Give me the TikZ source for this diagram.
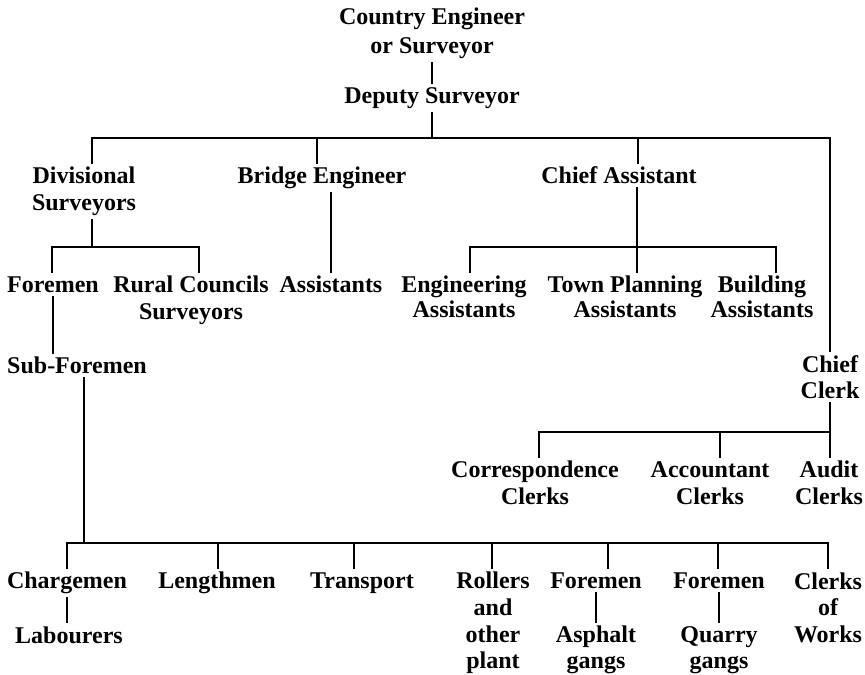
\documentclass[tikz,border=0pt]{standalone}
\usepackage{fontspec}
\setmainfont{Liberation Serif}

\begin{document}
\begin{tikzpicture}[
  x=0.5pt, y=-0.5pt,
  post/.style={font=\fontsize{12pt}{13.3pt}\selectfont\bfseries, align=center, inner sep=2pt},
  link/.style={line width=1.2pt, line cap=rect}
]
  \useasboundingbox (0,0) rectangle (865,674);

  % head of the department
  \node[post, font=\fontsize{12pt}{14.5pt}\selectfont\bfseries] (county) at (432,33.5) {Country Engineer\\or Surveyor};
  \node[post] (deputy) at (432,98) {Deputy Surveyor};

  % second tier
  \node[post, font=\fontsize{12pt}{13.5pt}\selectfont\bfseries] (divsur) at (84,191.5) {Divisional\\Surveyors};
  \node[post] (bridge) at (322,178) {Bridge Engineer};
  \node[post] (chiefasst) at (619,175.5) {Chief Assistant};

  \node[post] (foremen) at (53,284.5) {Foremen};
  \node[post] (rural) at (191,300) {Rural Councils\\Surveyors};
  \node[post] (assist) at (331,284.5) {Assistants};
  \node[post, font=\fontsize{12pt}{12.5pt}\selectfont\bfseries] (enga) at (464,297) {Engineering\\Assistants};
  \node[post, font=\fontsize{12pt}{12.5pt}\selectfont\bfseries] (towna) at (625,297) {Town Planning\\Assistants};
  \node[post, font=\fontsize{12pt}{12.5pt}\selectfont\bfseries] (builda) at (762,297) {Building\\Assistants};

  \node[post] (subfore) at (77,365.5) {Sub-Foremen};
  \node[post] (chiefclerk) at (830,377) {Chief\\Clerk};

  % clerical staff
  \node[post] (corr) at (535,483) {Correspondence\\Clerks};
  \node[post] (acct) at (710,483) {Accountant\\Clerks};
  \node[post] (audit) at (829,483) {Audit\\Clerks};

  % outdoor staff
  \node[post] (charge) at (67,583) {Chargemen};
  \node[post] (labour) at (69,635) {Labourers};
  \node[post] (length) at (217,583) {Lengthmen};
  \node[post] (transport) at (362,583) {Transport};
  \node[post] (rollers) at (493,623) {Rollers\\and\\other\\plant};
  \node[post] (forea) at (596,580.5) {Foremen};
  \node[post] (asph) at (596,650) {Asphalt\\gangs};
  \node[post] (foreq) at (719,580.5) {Foremen};
  \node[post] (quarry) at (719,650) {Quarry\\gangs};
  \node[post] (works) at (828,607.5) {Clerks\\of\\Works};

  % main bar
  \coordinate (t0) at (432,138);
  \coordinate (t1) at (92,138);
  \coordinate (t2) at (317,138);
  \coordinate (t3) at (638,138);
  \coordinate (t4) at (830,138);
  \draw[link] (county) -- (deputy);
  \draw[link] (deputy) -- (t0);
  \draw[link] (t1) -- (t4);
  \draw[link] (t1) -- (t1 |- divsur.north);
  \draw[link] (t2) -- (t2 |- bridge.north);
  \draw[link] (t3) -- (t3 |- chiefasst.north);
  \draw[link] (t4) -- (chiefclerk);

  % divisions
  \coordinate (d0) at (92,247);
  \coordinate (d1) at (52,247);
  \coordinate (d2) at (199,247);
  \draw[link] (d0 |- divsur.south) -- (d0);
  \draw[link] (d1) -- (d2);
  \draw[link] (d1) -- (d1 |- foremen.north);
  \draw[link] (d2) -- (d2 |- rural.north);
  \draw[link] (foremen) -- (foremen |- subfore.north);

  \draw[link] (assist |- bridge.south) -- (assist);

  \coordinate (c0) at (637,247);
  \coordinate (c1) at (470,247);
  \coordinate (c2) at (776,247);
  \draw[link] (c0 |- chiefasst.south) -- (c0);
  \draw[link] (c1) -- (c2);
  \draw[link] (c1) -- (c1 |- enga.north);
  \draw[link] (c0) -- (c0 |- towna.north);
  \draw[link] (c2) -- (c2 |- builda.north);

  % clerks
  \coordinate (k0) at (830,432);
  \coordinate (k1) at (539,432);
  \coordinate (k2) at (720,432);
  \draw[link] (chiefclerk) -- (k0);
  \draw[link] (k1) -- (k0);
  \draw[link] (k1) -- (k1 |- corr.north);
  \draw[link] (k2) -- (k2 |- acct.north);
  \draw[link] (k0) -- (k0 |- audit.north);

  % works bar
  \coordinate (w0) at (84,543);
  \foreach \x [count=\i] in {67,218,354,492,608,718,828}
    \coordinate (w\i) at (\x,543);
  \draw[link] (w0 |- subfore.south) -- (w0);
  \draw[link] (w1) -- (w7);
  \foreach \i/\n in {1/charge,2/length,3/transport,4/rollers,5/forea,6/foreq,7/works}
    \draw[link] (w\i) -- (w\i |- \n.north);
  \draw[link] (charge) -- (charge |- labour.north);
  \draw[link] (forea) -- (asph);
  \draw[link] (foreq) -- (quarry);
\end{tikzpicture}
\end{document}
